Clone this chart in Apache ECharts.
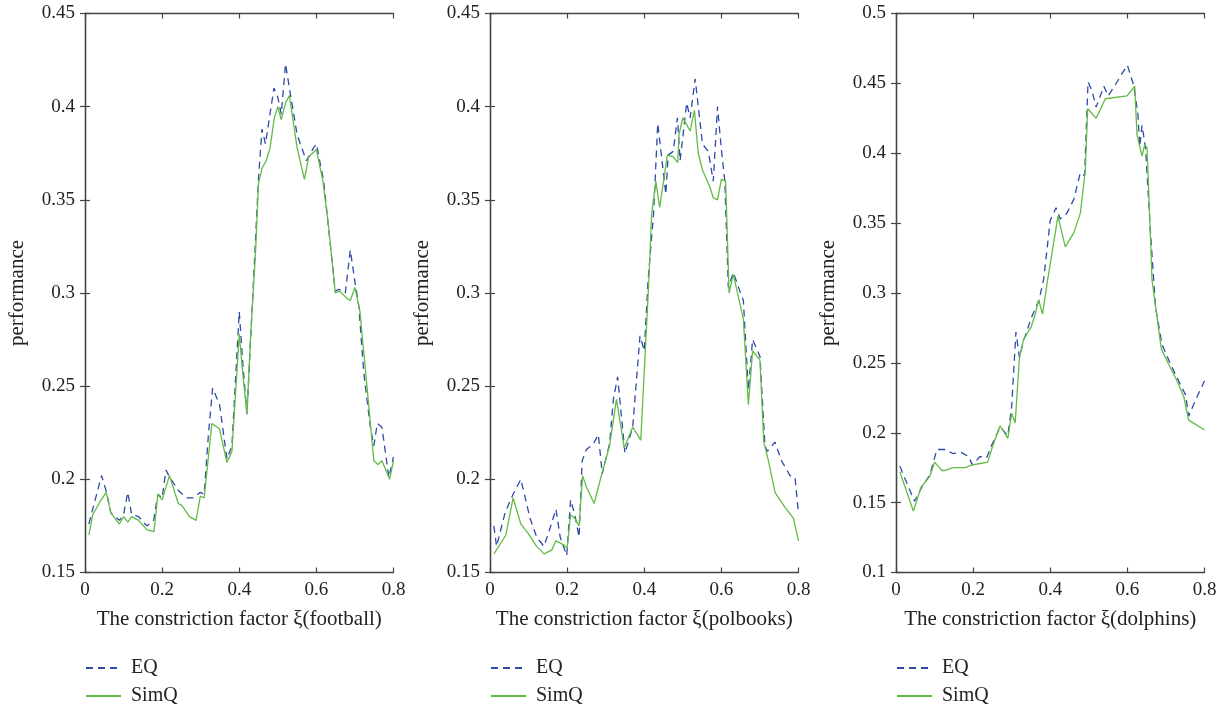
<!DOCTYPE html>
<html>
<head>
<meta charset="utf-8">
<script src="https://cdn.jsdelivr.net/npm/echarts@6/dist/echarts.min.js"></script>
<style>
  html, body { margin: 0; padding: 0; background: #fff; }
  #chart { width: 1228px; height: 708px; }
</style>
</head>
<body>
<div id="chart"></div>
<script>
// 三个网络上的结果，每个点为 [ξ, performance]
let footballEQ = [[0.01,0.176],[0.02,0.184],[0.043,0.202],[0.056,0.193],[0.067,0.182],[0.089,0.178],[0.1,0.181],[0.111,0.193],[0.121,0.181],[0.139,0.180],[0.16,0.175],[0.178,0.178],[0.189,0.192],[0.2,0.190],[0.21,0.205],[0.22,0.201],[0.242,0.194],[0.264,0.190],[0.281,0.190],[0.299,0.193],[0.309,0.192],[0.32,0.224],[0.331,0.249],[0.349,0.240],[0.368,0.211],[0.381,0.218],[0.4,0.290],[0.41,0.260],[0.42,0.235],[0.429,0.273],[0.45,0.362],[0.459,0.388],[0.468,0.380],[0.49,0.410],[0.5,0.405],[0.509,0.396],[0.52,0.423],[0.53,0.41],[0.55,0.385],[0.574,0.371],[0.593,0.378],[0.6,0.380],[0.619,0.36],[0.632,0.334],[0.649,0.301],[0.658,0.302],[0.675,0.300],[0.688,0.323],[0.7,0.306],[0.71,0.293],[0.723,0.257],[0.74,0.228],[0.749,0.218],[0.758,0.230],[0.77,0.228],[0.788,0.201],[0.8,0.212]];
let footballSimQ = [[0.01,0.17],[0.02,0.181],[0.039,0.188],[0.055,0.193],[0.067,0.182],[0.089,0.176],[0.1,0.180],[0.111,0.177],[0.121,0.180],[0.139,0.178],[0.16,0.173],[0.179,0.172],[0.189,0.192],[0.2,0.189],[0.219,0.202],[0.242,0.187],[0.251,0.186],[0.271,0.180],[0.288,0.178],[0.299,0.191],[0.309,0.190],[0.329,0.230],[0.349,0.227],[0.368,0.209],[0.381,0.215],[0.4,0.278],[0.41,0.255],[0.42,0.235],[0.429,0.275],[0.442,0.321],[0.45,0.359],[0.459,0.367],[0.47,0.371],[0.48,0.378],[0.491,0.394],[0.5,0.4],[0.509,0.393],[0.52,0.402],[0.53,0.406],[0.55,0.378],[0.569,0.361],[0.58,0.373],[0.6,0.377],[0.617,0.36],[0.632,0.335],[0.649,0.30],[0.66,0.301],[0.68,0.297],[0.688,0.296],[0.7,0.303],[0.713,0.290],[0.732,0.248],[0.749,0.21],[0.76,0.208],[0.77,0.21],[0.79,0.2],[0.8,0.21]];

let polbooksEQ = [[0.01,0.175],[0.017,0.164],[0.039,0.182],[0.06,0.192],[0.08,0.2],[0.104,0.179],[0.121,0.169],[0.14,0.164],[0.156,0.174],[0.171,0.184],[0.182,0.169],[0.199,0.159],[0.209,0.189],[0.22,0.181],[0.231,0.169],[0.239,0.21],[0.25,0.216],[0.268,0.219],[0.281,0.224],[0.291,0.203],[0.31,0.219],[0.32,0.243],[0.331,0.255],[0.35,0.214],[0.37,0.228],[0.389,0.277],[0.4,0.269],[0.41,0.307],[0.424,0.342],[0.435,0.391],[0.445,0.373],[0.456,0.353],[0.462,0.374],[0.475,0.376],[0.486,0.394],[0.493,0.371],[0.51,0.402],[0.519,0.394],[0.532,0.415],[0.551,0.38],[0.566,0.376],[0.579,0.36],[0.59,0.4],[0.6,0.377],[0.609,0.36],[0.618,0.303],[0.631,0.311],[0.648,0.301],[0.657,0.296],[0.67,0.248],[0.681,0.275],[0.7,0.266],[0.713,0.218],[0.719,0.215],[0.739,0.22],[0.756,0.21],[0.778,0.202],[0.791,0.201],[0.8,0.182]];
let polbooksSimQ = [[0.01,0.16],[0.041,0.17],[0.06,0.19],[0.08,0.176],[0.099,0.171],[0.121,0.164],[0.14,0.16],[0.16,0.162],[0.171,0.167],[0.19,0.165],[0.2,0.163],[0.209,0.181],[0.22,0.179],[0.231,0.175],[0.24,0.202],[0.25,0.196],[0.27,0.187],[0.29,0.203],[0.31,0.218],[0.328,0.243],[0.348,0.217],[0.37,0.228],[0.391,0.221],[0.402,0.266],[0.412,0.307],[0.419,0.342],[0.43,0.36],[0.44,0.346],[0.46,0.374],[0.475,0.373],[0.487,0.37],[0.49,0.385],[0.5,0.394],[0.519,0.387],[0.53,0.398],[0.54,0.375],[0.551,0.366],[0.57,0.357],[0.579,0.351],[0.59,0.35],[0.6,0.361],[0.611,0.36],[0.62,0.30],[0.631,0.31],[0.657,0.286],[0.67,0.24],[0.681,0.269],[0.7,0.264],[0.71,0.22],[0.722,0.21],[0.739,0.193],[0.765,0.185],[0.787,0.179],[0.8,0.167]];

let dolphinsEQ = [[0.01,0.176],[0.025,0.166],[0.048,0.151],[0.067,0.161],[0.088,0.170],[0.106,0.188],[0.127,0.188],[0.149,0.185],[0.169,0.186],[0.188,0.183],[0.198,0.177],[0.218,0.183],[0.235,0.182],[0.248,0.191],[0.27,0.204],[0.29,0.198],[0.3,0.219],[0.311,0.272],[0.32,0.254],[0.331,0.266],[0.352,0.283],[0.371,0.295],[0.383,0.31],[0.4,0.352],[0.415,0.361],[0.426,0.353],[0.443,0.357],[0.461,0.367],[0.478,0.386],[0.489,0.384],[0.498,0.451],[0.508,0.445],[0.519,0.433],[0.539,0.448],[0.55,0.441],[0.569,0.449],[0.586,0.457],[0.6,0.463],[0.616,0.449],[0.627,0.429],[0.632,0.405],[0.638,0.42],[0.647,0.404],[0.66,0.343],[0.673,0.29],[0.69,0.263],[0.712,0.249],[0.733,0.237],[0.751,0.227],[0.759,0.212],[0.781,0.226],[0.8,0.237]];
let dolphinsSimQ = [[0.01,0.172],[0.045,0.144],[0.065,0.161],[0.088,0.169],[0.1,0.179],[0.119,0.173],[0.127,0.173],[0.149,0.175],[0.179,0.175],[0.198,0.177],[0.218,0.178],[0.238,0.179],[0.25,0.19],[0.27,0.205],[0.29,0.196],[0.3,0.214],[0.309,0.207],[0.32,0.253],[0.331,0.267],[0.351,0.276],[0.361,0.285],[0.37,0.295],[0.38,0.285],[0.393,0.309],[0.42,0.355],[0.439,0.333],[0.461,0.343],[0.478,0.357],[0.491,0.388],[0.497,0.432],[0.519,0.425],[0.543,0.439],[0.599,0.441],[0.619,0.448],[0.625,0.413],[0.638,0.398],[0.645,0.406],[0.651,0.404],[0.664,0.309],[0.688,0.26],[0.707,0.249],[0.729,0.237],[0.746,0.226],[0.759,0.209],[0.8,0.202]];

let xTitles = ['The constriction factor ξ(football)', 'The constriction factor ξ(polbooks)', 'The constriction factor ξ(dolphins)'];
let yRanges = [[0.15, 0.45], [0.15, 0.45], [0.1, 0.5]];
let seriesNames = ['EQ', 'SimQ'];

let FONT = 'Liberation Serif';
let chart = echarts.init(document.getElementById('chart'));
let lefts = [85, 490, 896];
let allData = [[footballEQ, footballSimQ], [polbooksEQ, polbooksSimQ], [dolphinsEQ, dolphinsSimQ]];

let frameLine = { show: true, lineStyle: { color: '#444', width: 1.3 } };
let tick = { show: true, inside: true, length: 5, lineStyle: { color: '#444', width: 1.2 } };
let fmt = v => String(+v.toFixed(2));

let grid = [], xAxis = [], yAxis = [], series = [], legend = [];
lefts.forEach((left, i) => {
  grid.push({ left: left, top: 13.5, width: 308.5, height: 559 });
  // 下、上两条 x 轴，组成方框
  xAxis.push({
    type: 'value', gridIndex: i, min: 0, max: 0.8, interval: 0.2,
    name: xTitles[i], nameLocation: 'middle', nameGap: 36,
    nameTextStyle: { fontFamily: FONT, fontSize: 21, color: '#222' },
    axisLine: frameLine, axisTick: tick, splitLine: { show: false },
    axisLabel: { fontFamily: FONT, fontSize: 19, color: '#222', margin: 8, formatter: fmt }
  });
  xAxis.push({
    type: 'value', gridIndex: i, position: 'top', min: 0, max: 0.8, interval: 0.2,
    axisLine: frameLine, axisTick: tick, axisLabel: { show: false }, splitLine: { show: false }
  });
  yAxis.push({
    type: 'value', gridIndex: i, min: yRanges[i][0], max: yRanges[i][1], interval: 0.05,
    name: 'performance', nameLocation: 'middle', nameGap: 57,
    nameTextStyle: { fontFamily: FONT, fontSize: 21, color: '#222' },
    axisLine: frameLine, axisTick: tick, splitLine: { show: false },
    axisLabel: { fontFamily: FONT, fontSize: 19, color: '#222', margin: 10, formatter: fmt }
  });
  yAxis.push({
    type: 'value', gridIndex: i, position: 'right', min: yRanges[i][0], max: yRanges[i][1], interval: 0.05,
    axisLine: frameLine, axisTick: tick, axisLabel: { show: false }, splitLine: { show: false }
  });
  series.push({
    name: seriesNames[0], type: 'line', xAxisIndex: i * 2, yAxisIndex: i * 2,
    data: allData[i][0], symbol: 'none', animation: false,
    lineStyle: { color: '#2f4aa6', width: 1.3, type: [7, 5] }, itemStyle: { color: '#2f4aa6' }
  });
  series.push({
    name: seriesNames[1], type: 'line', xAxisIndex: i * 2, yAxisIndex: i * 2,
    data: allData[i][1], symbol: 'none', animation: false,
    lineStyle: { color: '#62bb45', width: 1.3 }, itemStyle: { color: '#62bb45' }
  });
  // 每个图下方两行图例
  seriesNames.forEach((name, k) => {
    legend.push({
      left: left, top: 658 + k * 28, padding: 0, data: [name],
      itemWidth: 35, itemHeight: 14, itemGap: 10, selectedMode: false,
      itemStyle: { opacity: 0 },
      textStyle: { fontFamily: FONT, fontSize: 20, color: '#222', padding: [0, 0, 0, 5] }
    });
  });
});

chart.setOption({
  animation: false,
  grid: grid,
  xAxis: xAxis,
  yAxis: yAxis,
  legend: legend,
  series: series
});
</script>
</body>
</html>
